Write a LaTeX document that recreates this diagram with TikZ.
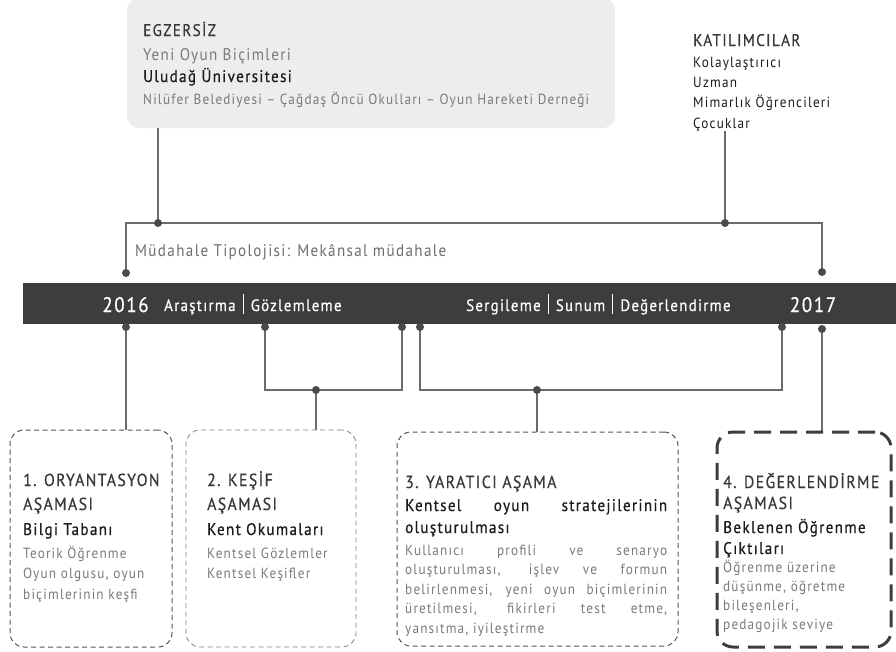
\documentclass[tikz,border=0pt]{standalone}
\usepackage{fontspec}
\setmainfont[FakeStretch=0.9,LetterSpace=8]{PT Sans}
\newfontfamily\strongfont[FakeStretch=0.9,LetterSpace=8,FakeBold=0.6]{PT Sans}
\usetikzlibrary{backgrounds}

\definecolor{barcol}{HTML}{3D3D3D}
\definecolor{linecol}{HTML}{6C6C6C}
\definecolor{dotcol}{HTML}{4A4A4A}
\definecolor{headcol}{HTML}{383838}
\definecolor{subcol}{HTML}{1C1C1C}
\definecolor{bodycol}{HTML}{7A7A7A}
\definecolor{boxfill}{HTML}{EDEDED}
\definecolor{dashcol}{HTML}{555555}

\newcommand{\fsz}[2]{\fontsize{#1}{#2}\selectfont}
\newcommand{\jline}[1]{\makebox[262pt][s]{#1}}
\newcommand{\barsep}{\hspace{7pt}\rule[-3pt]{1.2pt}{20pt}\hspace{7pt}}

\tikzset{
  conn/.style={draw=linecol, line width=1.4pt},
  dot/.style={circle, fill=dotcol, inner sep=0pt, minimum size=8pt},
  phase/.style={draw=dashcol, line width=1pt, rounded corners=14pt, dash pattern=on 5pt off 3.5pt},
  lastphase/.style={draw=barcol, line width=3pt, rounded corners=16pt, dash pattern=on 17pt off 9pt},
  lbl/.style={anchor=base west, inner sep=0pt, align=left},
  head/.style={lbl, text=headcol, font=\strongfont\fsz{17.5}{24}},
  sub/.style={lbl, text=subcol, font=\strongfont\fsz{16.8}{22}},
  body/.style={lbl, text=bodycol, font=\fsz{14.7}{20.5}},
  bartext/.style={anchor=base, inner sep=0pt, text=white}
}

\begin{document}
\begin{tikzpicture}[x=1pt,y=-1pt]
\useasboundingbox (0,0) rectangle (896,651);

% top boxes (multi-line labels sit on the baseline of their last line)
\node[fill=boxfill, rounded corners=12pt, minimum width=488pt, minimum height=130pt, inner sep=0pt] (egz) at (371,63) {};
\node[lbl, text=headcol, font=\strongfont\fsz{16.8}{22}] (egzhead) at (143,36) {EGZERSİZ};
\node[lbl, text=bodycol, font=\fsz{16.8}{22}] (egzform) at (143,60) {Yeni Oyun Biçimleri};
\node[lbl, text=subcol, font=\strongfont\fsz{16.8}{22}] (egzuni) at (143,82) {Uludağ Üniversitesi};
\node[lbl, text=bodycol, font=\fsz{14.7}{20}] (egzpart) at (143,104) {Nilüfer Belediyesi -- Çağdaş Öncü Okulları -- Oyun Hareketi Derneği};

\node[lbl, text=headcol, font=\strongfont\fsz{16.8}{22}] (kathead) at (693,46) {KATILIMCILAR};
\node[lbl, text=subcol, font=\fsz{14.7}{20.3}] (katlist) at (693,128) {Kolaylaştırıcı\\Uzman\\Mimarlık Öğrencileri\\Çocuklar};

\node[lbl, text=linecol, font=\fsz{16.8}{22}] (typo) at (135,256) {Müdahale Tipolojisi: Mekânsal müdahale};

% timeline bar
\node[fill=barcol, minimum width=873pt, minimum height=41pt, inner sep=0pt] (bar) at (459.5,303.5) {};
\node[bartext, font=\strongfont\fsz{21}{26}] (y16) at (125.5,312) {2016};
\node[bartext, font=\strongfont\fsz{16.5}{20}, anchor=base west] (act1) at (164,311) {Araştırma\barsep Gözlemleme};
\node[bartext, font=\strongfont\fsz{16.5}{20}, anchor=base west] (act2) at (466,311) {Sergileme\barsep Sunum\barsep Değerlendirme};
\node[bartext, font=\strongfont\fsz{21}{26}] (y17) at (813,312) {2017};

% phases
\node[phase, minimum width=162pt, minimum height=217pt] (p1) at (91,538.5) {};
\node[phase, draw=dashcol!75, line width=0.8pt, minimum width=170pt, minimum height=217pt] (p2) at (271,538.5) {};
\node[phase, minimum width=281pt, minimum height=214pt] (p3) at (537.5,539) {};
\node[lastphase, minimum width=174pt, minimum height=215pt] (p4) at (804,539.5) {};

\node[head] (p1head) at (23,510) {1. ORYANTASYON\\AŞAMASI};
\node[sub] (p1sub) at (23,535) {Bilgi Tabanı};
\node[body] (p1body) at (23,599) {Teorik Öğrenme\\Oyun olgusu, oyun\\biçimlerinin keşfi};

\node[head] (p2head) at (207,510) {2. KEŞİF\\AŞAMASI};
\node[sub] (p2sub) at (207,535) {Kent Okumaları};
\node[body] (p2body) at (207,578.5) {Kentsel Gözlemler\\Kentsel Keşifler};

\node[head] (p3head) at (405,488) {3. YARATICI AŞAMA};
\node[sub] (p3sub) at (405,533) {\jline{Kentsel oyun stratejilerinin}\\oluşturulması};
\node[body, font=\fsz{14.7}{19.6}] (p3body) at (405,633.4) {\jline{Kullanıcı profili ve senaryo}\\\jline{oluşturulması, işlev ve formun}\\\jline{belirlenmesi, yeni oyun biçimlerinin}\\\jline{üretilmesi, fikirleri test etme,}\\yansıtma, iyileştirme};

\node[head, font=\strongfont\fsz{17.5}{21}] (p4head) at (723,509) {4. DEĞERLENDİRME\\AŞAMASI};
\node[sub, font=\strongfont\fsz{16.8}{21}] (p4sub) at (723,554) {Beklenen Öğrenme\\Çıktıları};
\node[body, font=\fsz{14.7}{19}] (p4body) at (723,629) {Öğrenme üzerine\\düşünme, öğretme\\bileşenleri,\\pedagojik seviye};

% dots
\node[dot] (egzdot) at (158,223) {};
\node[dot] (katdot) at (725,223) {};
\node[dot] (top16) at (126,273) {};
\node[dot] (top17) at (822,272) {};
\node[dot] (b1) at (126,327) {};
\node[dot] (b2) at (265,327) {};
\node[dot] (b3) at (402,327) {};
\node[dot] (b4) at (420,327) {};
\node[dot] (b5) at (782,327) {};
\node[dot] (b6) at (822,329) {};
\node[dot] (j2) at (316,390) {};
\node[dot] (j3) at (537,390) {};
\coordinate (hl) at (126,223);
\coordinate (hr) at (822,223);

% connectors, kept under the dots
\begin{pgfonlayer}{background}
\draw[conn] (egz.south -| egzdot) -- (egzdot.center);
\draw[conn] (katlist.south -| katdot) -- (katdot.center);
\draw[conn] (top16.center) -- (hl) -- (hr) -- (top17.center);
\draw[conn] (b1.center) -- (b1.center |- p1.north);
\draw[conn] (b2.center) -- (b2.center |- j2.center) -- (b3.center |- j2.center) -- (b3.center);
\draw[conn] (j2.center) -- (j2.center |- p2.north);
\draw[conn] (b4.center) -- (b4.center |- j3.center) -- (b5.center |- j3.center) -- (b5.center);
\draw[conn] (j3.center) -- (j3.center |- p3.north);
\draw[conn] (b6.center) -- (b6.center |- p4.north);
\end{pgfonlayer}
\end{tikzpicture}
\end{document}
